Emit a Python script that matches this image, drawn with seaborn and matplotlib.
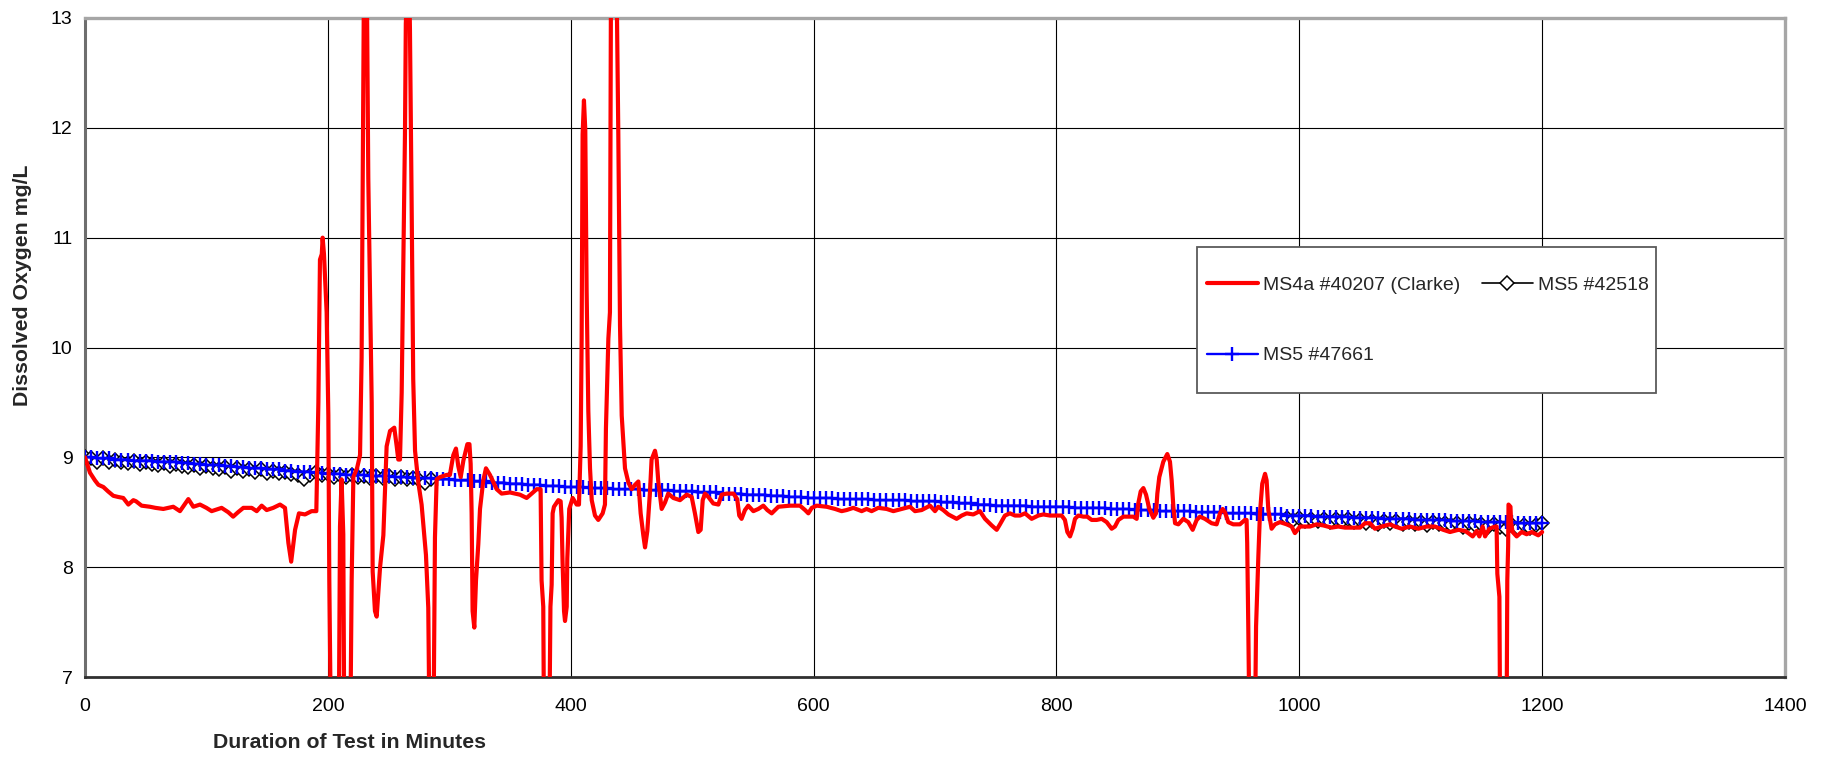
import numpy as np
import pandas as pd
import matplotlib
matplotlib.use("Agg")
import matplotlib.pyplot as plt
from matplotlib.lines import Line2D
from matplotlib.patches import Rectangle
import seaborn as sns

# ---- MS4a #40207 (Clarke): elapsed minutes and dissolved oxygen (mg/L) ----
clarke_minutes = [
    0, 4.1, 8.2, 11, 15.1, 19, 23.3, 27, 31.5, 35.7, 39.8, 42, 46.6, 53.5, 58, 64.5,
    72.7, 78.2, 85.1, 89.2, 94.7, 100, 104.3, 112.5, 118, 122, 126, 130.4, 137.3,
    141.4, 145.5, 149.6, 155, 160.6, 164.7, 167.5, 169.8, 173, 176.2, 181.2, 186.6,
    190.5, 192.2, 193.5, 195, 195.7, 196.8, 199, 200.4, 201.2, 202.5, 209, 210,
    211.3, 212.7, 213.5, 218.5, 219.6, 221, 224, 226.5, 227.8, 229.2, 229.8, 232,
    233.3, 236.1, 236.9, 238.8, 240.2, 243, 245.7, 247, 248.4, 251.2, 254.7, 256.7,
    258, 259.4, 260.8, 262.1, 263.5, 264.2, 265.5, 267, 267.6, 268.9, 270.3, 271.8,
    274.5, 277.2, 280.8, 282.7, 283.7, 287, 288.2, 289.6, 292.4, 297.8, 300.5,
    303.3, 305.5, 307.4, 309.4, 311.6, 314.9, 316.6, 317.6, 318.4, 319.2, 320.6,
    322, 323.9, 325.3, 328, 330.2, 333.5, 339, 343.1, 350, 358.2, 363.7, 367.8,
    372, 375.2, 376, 377.4, 378, 382.4, 383.3, 384.3, 385.1, 386.2, 389.8, 391.7,
    392.5, 393.3, 394.5, 395.3, 396.7, 397.2, 398.8, 401.6, 404.9, 406.8, 408.2,
    409, 409.8, 410.9, 412, 413.1, 414.5, 415.9, 417.3, 420, 422.7, 426.3, 428.2,
    429, 431, 432.3, 433.2, 437.6, 439.2, 440.6, 442, 444.7, 447.5, 450.2, 453,
    455.7, 457.6, 459.8, 461.2, 463.1, 465.3, 466.6, 469.4, 470.8, 472.1, 474.9,
    477.7, 480.3, 484.5, 490, 495.5, 499.6, 502.3, 505.1, 507, 508.7, 510.6, 513.3,
    517.4, 521.6, 524.3, 528.4, 534, 537.1, 538.8, 540.7, 543.5, 546.2, 550.4,
    554.5, 558.6, 561.9, 565.5, 571, 580.6, 588.8, 593, 595.7, 598.5, 602.6, 610.8,
    617.7, 623.1, 627.2, 632.7, 639.6, 643.7, 647.8, 653.3, 660.2, 665.7, 672.5,
    679.4, 683.5, 689, 695.9, 700, 702.7, 706.8, 711, 717.8, 722, 726.1, 731.5,
    737, 741.2, 746.7, 750.8, 753.5, 757.6, 761.7, 765.9, 770, 774.1, 779.6, 785.1,
    789.2, 794.7, 804.3, 807, 809, 811.2, 813.4, 815.3, 818, 822.2, 825.4, 829,
    833.1, 837.3, 841.4, 845.5, 848.2, 851, 855.1, 863.3, 866.1, 867.4, 869.4,
    871.6, 873.8, 876.5, 879.8, 882, 883.1, 884.7, 888, 891.3, 893.5, 894.9, 896.3,
    897.7, 900.4, 904.5, 908.6, 912.2, 915.5, 918.2, 922.3, 927.8, 931.9, 934.7,
    936.9, 938.8, 941.5, 945.6, 951.1, 955.2, 956.6, 957.1, 958, 959, 963.5, 964.4,
    966.3, 967.6, 969.5, 971.8, 973.1, 974.5, 977.2, 980, 984.1, 989.6, 993.7,
    996.4, 1000.6, 1008.8, 1014.3, 1019.8, 1026.6, 1032.1, 1037.6, 1050, 1054.1,
    1058.2, 1062.3, 1067.8, 1074.6, 1078.8, 1084.3, 1091.1, 1098, 1104.9, 1111.7,
    1118.6, 1124.1, 1131, 1136.5, 1139.2, 1142.8, 1146.1, 1148.3, 1151, 1153,
    1156.5, 1161.2, 1162.5, 1163.1, 1164.8, 1165.4, 1170.7, 1171.3, 1172, 1172.3,
    1173.9, 1174.5, 1175.7, 1179, 1183.1, 1187.2, 1191.4, 1196.8, 1200,
]
clarke_do = [
    9.00, 8.86, 8.79, 8.75, 8.73, 8.69, 8.65, 8.64, 8.63, 8.57, 8.61, 8.60, 8.56, 8.55, 8.54, 8.53,
    8.55, 8.51, 8.62, 8.55, 8.57, 8.54, 8.51, 8.54, 8.50, 8.46, 8.50, 8.54, 8.54,
    8.51, 8.56, 8.52, 8.54, 8.57, 8.54, 8.22, 8.05, 8.34, 8.49, 8.48, 8.51,
    8.51, 9.50, 10.80, 10.85, 11.00, 10.85, 10.32, 9.38, 7.88, 6.50, 6.50, 8.37,
    8.80, 8.30, 6.50, 6.50, 7.88, 8.82, 8.90, 9.02, 9.91, 12.35, 13.50, 13.50,
    11.54, 9.50, 7.96, 7.60, 7.55, 8.00, 8.29, 8.69, 9.10, 9.24, 9.27, 9.10,
    8.98, 8.98, 9.59, 10.72, 11.94, 12.95, 13.30, 13.30, 12.90, 11.42, 9.71, 9.06,
    8.77, 8.57, 8.11, 7.63, 6.50, 6.50, 8.27, 8.80, 8.82, 8.84, 8.84,
    9.02, 9.08, 8.92, 8.82, 8.97, 9.12, 9.12, 8.94, 8.49, 7.60, 7.45,
    7.88, 8.21, 8.53, 8.79, 8.90, 8.84, 8.71, 8.67, 8.68, 8.66, 8.63, 8.67,
    8.71, 8.71, 7.88, 7.64, 6.50, 6.50, 7.64, 7.84, 8.49, 8.55, 8.61, 8.60,
    8.45, 8.04, 7.60, 7.51, 7.64, 8.08, 8.53, 8.63, 8.57, 8.57, 9.10,
    10.08, 11.94, 12.25, 11.98, 10.52, 9.42, 8.90, 8.61, 8.47, 8.43, 8.49, 8.57,
    9.26, 10.08, 10.32, 13.50, 13.50, 11.94, 10.20, 9.38, 8.90, 8.77, 8.71, 8.75,
    8.78, 8.49, 8.29, 8.18, 8.33, 8.69, 8.98, 9.06, 8.98, 8.78, 8.53,
    8.59, 8.67, 8.63, 8.61, 8.66, 8.64, 8.49, 8.32, 8.34, 8.61, 8.67, 8.64,
    8.58, 8.57, 8.66, 8.67, 8.67, 8.62, 8.47, 8.44, 8.52, 8.56, 8.51,
    8.53, 8.56, 8.52, 8.49, 8.55, 8.56, 8.56, 8.52, 8.49, 8.54, 8.56, 8.55,
    8.53, 8.51, 8.52, 8.54, 8.51, 8.53, 8.51, 8.54, 8.53, 8.51, 8.53,
    8.55, 8.51, 8.52, 8.56, 8.51, 8.55, 8.52, 8.48, 8.44, 8.47, 8.49, 8.48,
    8.51, 8.44, 8.38, 8.34, 8.39, 8.47, 8.49, 8.47, 8.47, 8.49, 8.44, 8.47,
    8.48, 8.47, 8.47, 8.43, 8.32, 8.28, 8.35, 8.44, 8.47, 8.46, 8.46, 8.43,
    8.43, 8.44, 8.41, 8.35, 8.37, 8.43, 8.46, 8.46, 8.44, 8.58, 8.69,
    8.72, 8.66, 8.53, 8.45, 8.49, 8.67, 8.82, 8.96, 9.03, 8.96, 8.79, 8.55,
    8.40, 8.39, 8.44, 8.41, 8.34, 8.43, 8.46, 8.44, 8.40, 8.39, 8.49,
    8.53, 8.50, 8.41, 8.39, 8.39, 8.43, 8.43, 8.22, 7.46, 6.50, 6.50, 7.46,
    8.10, 8.49, 8.76, 8.85, 8.79, 8.52, 8.35, 8.39, 8.41, 8.39, 8.37,
    8.31, 8.37, 8.37, 8.39, 8.38, 8.36, 8.37, 8.36, 8.36, 8.40,
    8.40, 8.35, 8.37, 8.39, 8.37, 8.35, 8.37, 8.35, 8.37, 8.37,
    8.34, 8.32, 8.34, 8.33, 8.31, 8.28, 8.33, 8.28, 8.37, 8.28,
    8.35, 8.37, 8.37, 7.94, 7.73, 6.50, 6.50, 7.88, 8.19, 8.57,
    8.55, 8.40, 8.32, 8.28, 8.32, 8.30, 8.32, 8.29, 8.32,
]

# ---- MS5 #42518: logged every 5 minutes in two windows ----
log_interval = 5
ms5_42518_start_a = 0
ms5_42518_do_a = [
    9.00, 8.99, 8.96, 8.99, 8.96, 8.98, 8.96, 8.95, 8.97, 8.94, 8.96, 8.94, 8.93, 8.95,
    8.92, 8.94, 8.92, 8.91, 8.93, 8.90, 8.92, 8.90, 8.89, 8.91, 8.88, 8.90, 8.88, 8.89,
    8.87, 8.89, 8.86, 8.88, 8.86, 8.87, 8.85, 8.84, 8.80, 8.84, 8.87, 8.84, 8.85, 8.82,
    8.84, 8.82, 8.84, 8.82, 8.83, 8.81, 8.83, 8.81, 8.83, 8.80, 8.82, 8.80, 8.81, 8.79,
    8.77, 8.80,
]
ms5_42518_start_b = 990
ms5_42518_do_b = [
    8.45, 8.43, 8.45, 8.42, 8.44, 8.42, 8.44, 8.41, 8.44, 8.42, 8.44, 8.41, 8.43, 8.40,
    8.42, 8.39, 8.42, 8.40, 8.42, 8.39, 8.41, 8.39, 8.41, 8.38, 8.41, 8.39, 8.40, 8.38,
    8.40, 8.37, 8.40, 8.38, 8.39, 8.37, 8.39, 8.37, 8.35, 8.38, 8.36, 8.38, 8.36, 8.38,
    8.40,
]

# ---- MS5 #47661: logged every 5 minutes from the start ----
ms5_47661_start = 0
ms5_47661_do = [
    9.00, 9.00, 8.99, 8.99, 8.99, 8.98, 8.98, 8.98, 8.97, 8.97, 8.97, 8.97, 8.96, 8.96,
    8.96, 8.96, 8.95, 8.95,
    8.94, 8.94, 8.93, 8.93, 8.93, 8.92, 8.92, 8.91, 8.91,
    8.90, 8.90, 8.90, 8.89, 8.89, 8.89, 8.88, 8.88, 8.87, 8.87, 8.87, 8.86, 8.86, 8.85,
    8.85, 8.85, 8.84, 8.84, 8.84, 8.84, 8.83, 8.83, 8.83, 8.83, 8.82, 8.82, 8.82, 8.81,
    8.81, 8.81,
    8.81, 8.80, 8.80, 8.80, 8.79, 8.79, 8.79, 8.78, 8.78, 8.78, 8.77, 8.77, 8.77, 8.76,
    8.76, 8.76, 8.75, 8.75, 8.75, 8.74, 8.74, 8.74, 8.73, 8.73,
    8.73, 8.73, 8.72, 8.72, 8.72, 8.72, 8.71, 8.71, 8.71, 8.71, 8.71, 8.70, 8.70, 8.70,
    8.70, 8.70, 8.69, 8.69,
    8.69, 8.69, 8.68, 8.68, 8.68, 8.68, 8.67, 8.67, 8.67, 8.67, 8.66, 8.66, 8.66, 8.66,
    8.65, 8.65, 8.65, 8.64, 8.64, 8.64, 8.63, 8.63,
    8.63, 8.63, 8.63, 8.62, 8.62, 8.62, 8.62, 8.62, 8.62, 8.61, 8.61, 8.61, 8.61, 8.61,
    8.61, 8.60, 8.60, 8.60, 8.60, 8.60,
    8.59, 8.59, 8.59, 8.58, 8.58, 8.58, 8.57, 8.57, 8.57, 8.56, 8.56, 8.56,
    8.56, 8.56, 8.56, 8.55, 8.55, 8.55, 8.55, 8.55, 8.55, 8.55, 8.54, 8.54, 8.54, 8.54,
    8.54, 8.54, 8.53, 8.53, 8.53, 8.53,
    8.52, 8.52, 8.52, 8.52, 8.51, 8.51, 8.51, 8.51, 8.51, 8.51, 8.50, 8.50, 8.50, 8.50,
    8.50, 8.49, 8.49, 8.49, 8.49, 8.49, 8.48, 8.48, 8.48, 8.48, 8.48, 8.47, 8.47, 8.47,
    8.47, 8.47, 8.46, 8.46, 8.46, 8.46, 8.46, 8.46, 8.45, 8.45, 8.45, 8.45, 8.45, 8.44,
    8.44, 8.44, 8.44, 8.44, 8.43, 8.43, 8.43, 8.43, 8.43, 8.43, 8.42, 8.42, 8.42, 8.42,
    8.42, 8.41, 8.41, 8.41, 8.41, 8.41, 8.41, 8.40, 8.40, 8.40, 8.40, 8.40,
]

series_labels = ["MS4a #40207 (Clarke)", "MS5 #42518", "MS5 #47661"]
x_ticks = [0, 200, 400, 600, 800, 1000, 1200, 1400]
y_ticks = [7, 8, 9, 10, 11, 12, 13]


def logged(start, values):
    minutes = start + log_interval * np.arange(len(values))
    return pd.DataFrame({"minutes": minutes, "do": values})


clarke = pd.DataFrame({"minutes": clarke_minutes, "do": clarke_do})
ms5_42518_a = logged(ms5_42518_start_a, ms5_42518_do_a)
ms5_42518_b = logged(ms5_42518_start_b, ms5_42518_do_b)
ms5_47661 = logged(ms5_47661_start, ms5_47661_do)

sns.set_style("white")
plt.rcParams["font.family"] = ["Liberation Sans", "DejaVu Sans"]

W, H = 1826, 757
fig = plt.figure(figsize=(W / 100, H / 100), dpi=100)
ax = fig.add_axes([85 / W, (H - 677) / H, 1700 / W, 659 / H])

red, blue = "#ff0000", "#0000ff"
diamond_style = dict(color="black", linewidth=1.2, marker="D", markersize=7,
                     markerfacecolor="white", markeredgecolor="black",
                     markeredgewidth=1.1)
plus_style = dict(color=blue, linewidth=1.7, marker="+", markersize=9.5,
                  markeredgecolor=blue, markeredgewidth=1.7)
red_style = dict(color=red, linewidth=3.0, solid_joinstyle="round",
                 solid_capstyle="round")

for part in (ms5_42518_a, ms5_42518_b):
    sns.lineplot(data=part, x="minutes", y="do", estimator=None, sort=False,
                 ax=ax, zorder=3, **diamond_style)
sns.lineplot(data=ms5_47661, x="minutes", y="do", estimator=None, sort=False,
             ax=ax, zorder=4, **plus_style)
sns.lineplot(data=clarke, x="minutes", y="do", estimator=None, sort=False,
             ax=ax, zorder=5, **red_style)

ax.set_xlim(x_ticks[0], x_ticks[-1])
ax.set_ylim(y_ticks[0], y_ticks[-1])
ax.set_xticks(x_ticks)
ax.set_yticks(y_ticks)
ax.grid(True, color="black", linewidth=0.8)
ax.set_axisbelow(True)
ax.tick_params(axis="both", direction="out", length=4, width=0.9,
               color="black", labelsize=14, labelcolor="black")
ax.tick_params(axis="x", pad=11)
ax.tick_params(axis="y", pad=5)

for side in ("top", "right"):
    ax.spines[side].set_color("#a6a6a6")
    ax.spines[side].set_linewidth(2.4)
ax.spines["left"].set_color("#6e6e6e")
ax.spines["left"].set_linewidth(2.2)
ax.spines["bottom"].set_color("#303030")
ax.spines["bottom"].set_linewidth(2.0)

ax.set_xlabel("Duration of Test in Minutes", fontsize=15.3, fontweight="bold")
ax.set_ylabel("Dissolved Oxygen mg/L", fontsize=15.3, fontweight="bold")
ax.xaxis.set_label_coords((349 - 85) / 1700, (677 - 742) / 659)
ax.xaxis.label.set_verticalalignment("center")
ax.yaxis.set_label_coords((23 - 85) / 1700, (677 - 285) / 659)
ax.yaxis.label.set_verticalalignment("center")

# legend: plain white box with a thin grey border, entries laid out in two columns
box = Rectangle((1197 / W, 1 - 393 / H), 459 / W, 146 / H, transform=fig.transFigure,
                facecolor="white", edgecolor="#5a5a5a", linewidth=1.3, zorder=10)
fig.add_artist(box)
handles = [
    Line2D([], [], **red_style),
    Line2D([], [], **plus_style),
    Line2D([], [], **diamond_style),
]
labels = [series_labels[0], series_labels[2], series_labels[1]]
fig.legend(handles, labels, loc="upper left", bbox_to_anchor=(1207 / W, 1 - 276 / H),
           ncol=2, frameon=False, fontsize=14, borderpad=0, borderaxespad=0,
           handlelength=2.6, handletextpad=0.3, columnspacing=1.1,
           labelspacing=2.74, numpoints=1).set_zorder(11)

fig.savefig("out.png", dpi=100)
